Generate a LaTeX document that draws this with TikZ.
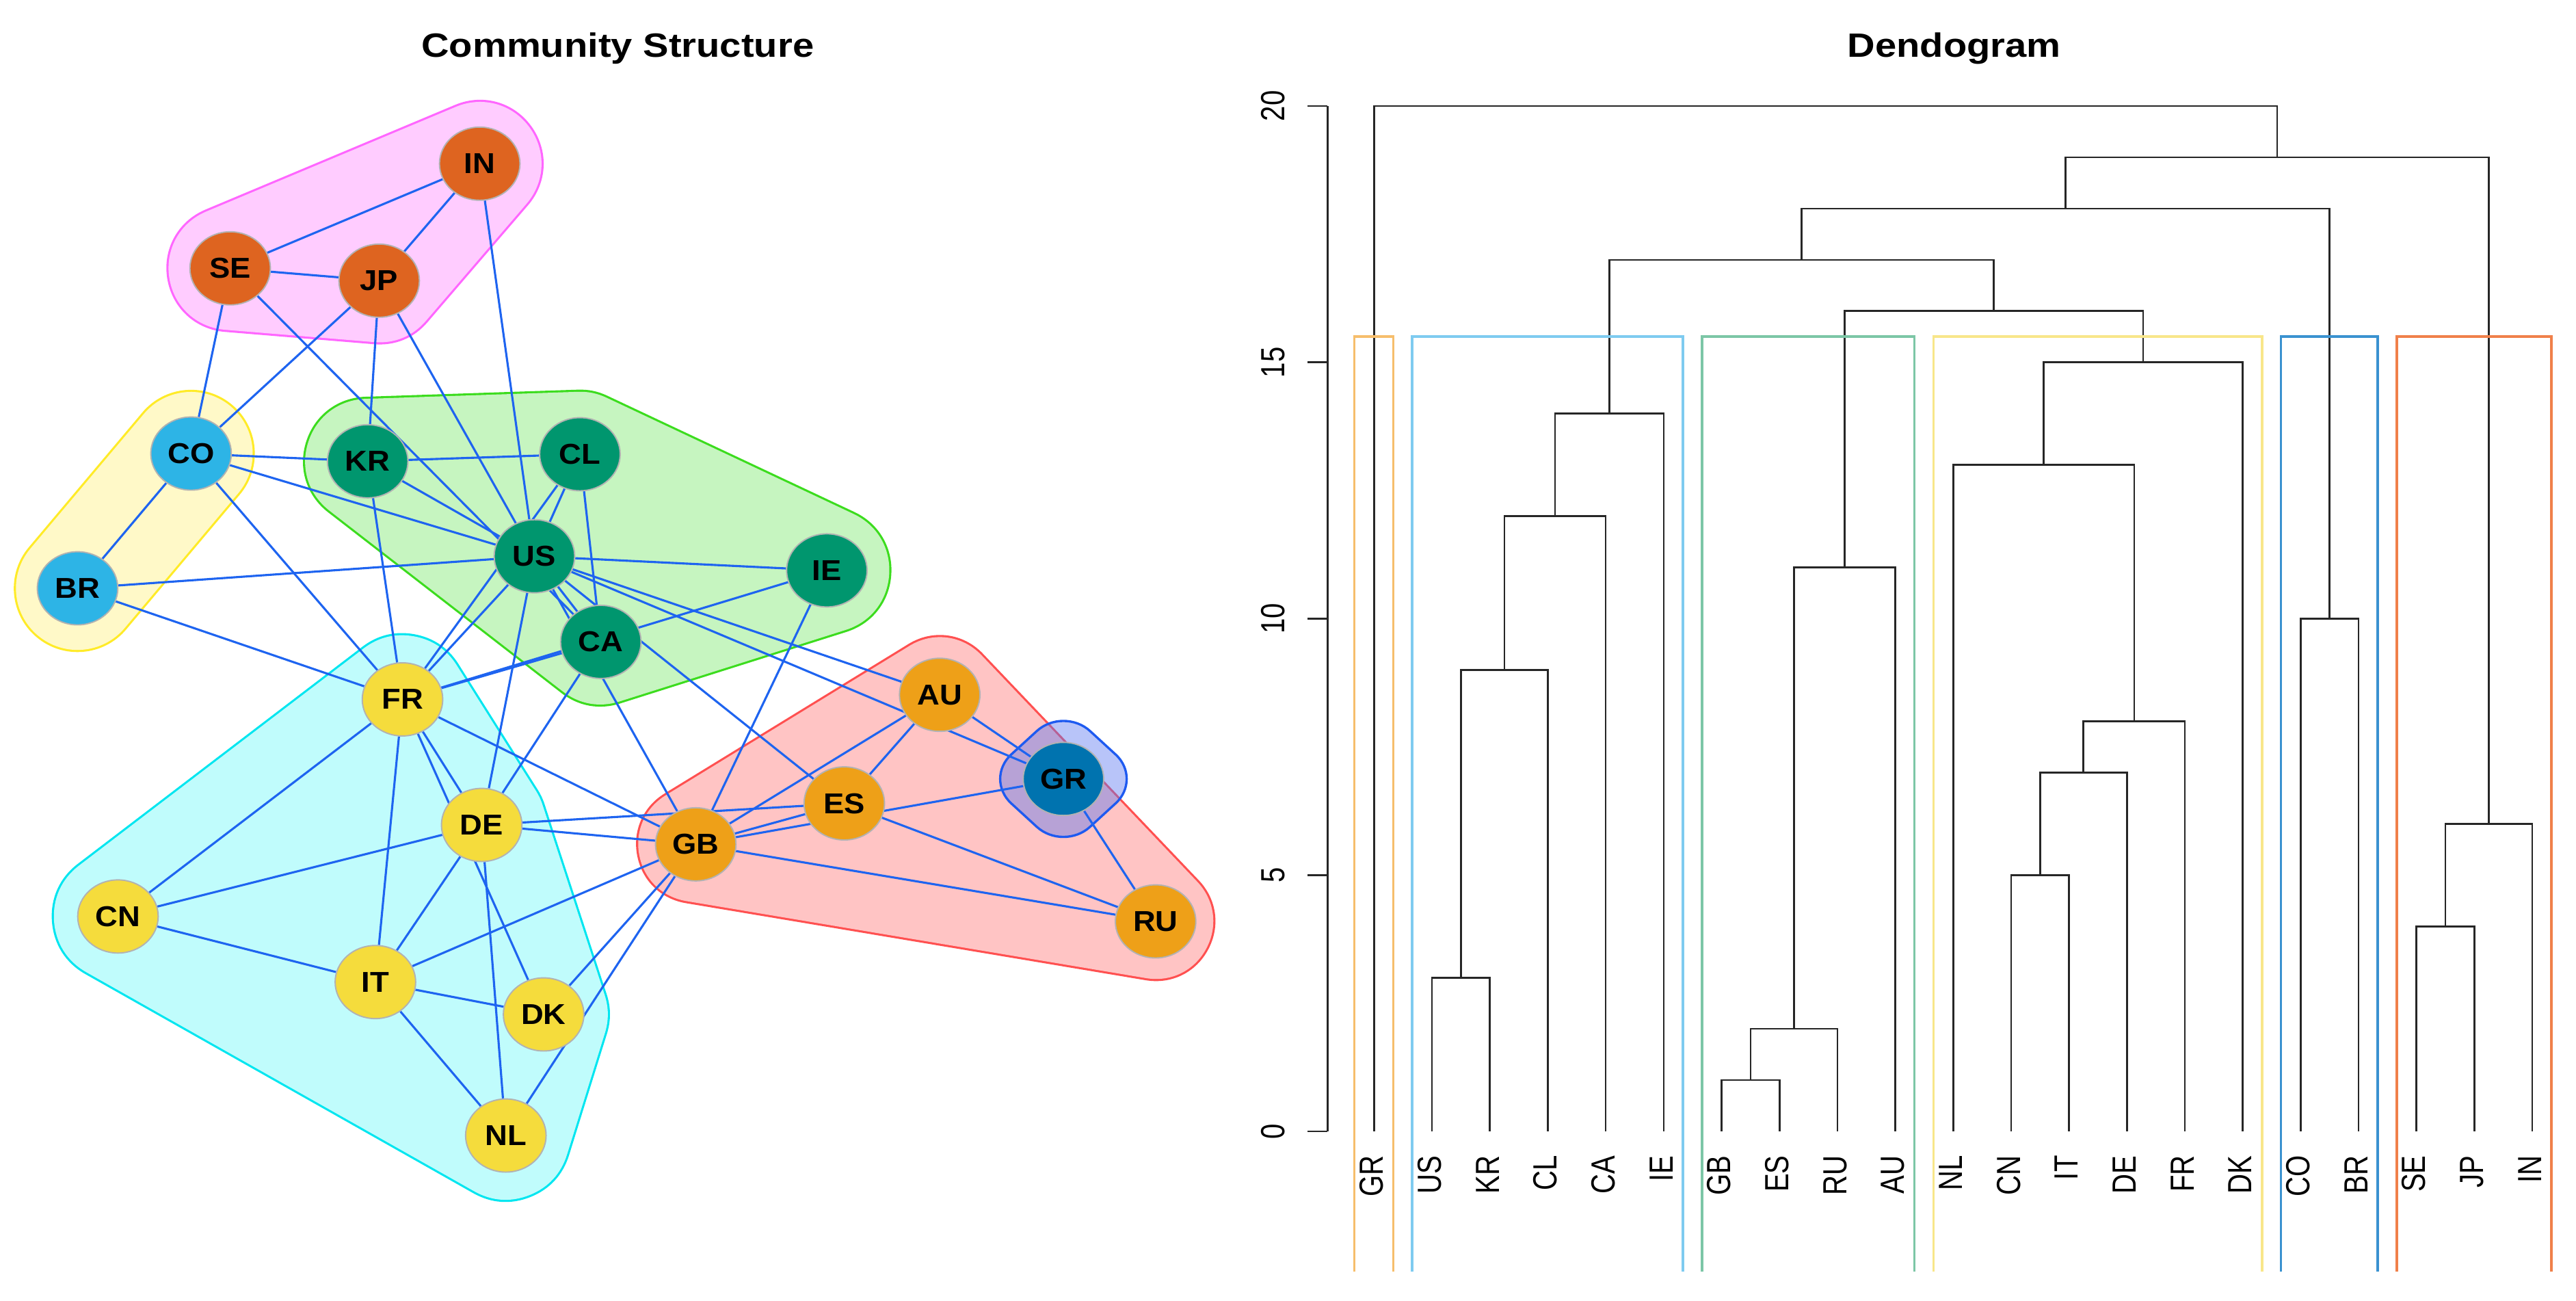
\documentclass[tikz,border=0pt]{standalone}
\usepackage{fontspec}
\setmainfont{Liberation Sans}
\usepackage{graphicx}
\usetikzlibrary{shapes.geometric}
\pgfdeclarelayer{hulls}
\pgfdeclarelayer{edges}
\pgfsetlayers{hulls,edges,main}
\definecolor{cVer}{HTML}{DE6420}
\definecolor{cOra}{HTML}{EEA018}
\definecolor{cGrn}{HTML}{00966E}
\definecolor{cSky}{HTML}{2DB4E6}
\definecolor{cBlu}{HTML}{0073AF}
\definecolor{cYel}{HTML}{F5DC3C}
\definecolor{edgeblue}{HTML}{1E64F0}
\definecolor{hPinkF}{HTML}{FFCCFF}
\definecolor{hPinkB}{HTML}{FF66FF}
\definecolor{hGrnF}{HTML}{C6F5C0}
\definecolor{hGrnB}{HTML}{3CDC1E}
\definecolor{hYelF}{HTML}{FFF9C8}
\definecolor{hYelB}{HTML}{FFEB28}
\definecolor{hCyaF}{HTML}{C0FCFC}
\definecolor{hCyaB}{HTML}{00E6F0}
\definecolor{hRedF}{HTML}{FFC4C4}
\definecolor{hRedB}{HTML}{FF5050}
\definecolor{hBluF}{HTML}{5A76F0}
\definecolor{hBluB}{HTML}{1E5AF0}
\definecolor{rOra}{HTML}{F6BE6C}
\definecolor{rSky}{HTML}{7ECBF0}
\definecolor{rGrn}{HTML}{7CC6A6}
\definecolor{rYel}{HTML}{F8E68A}
\definecolor{rBlu}{HTML}{3A92D0}
\definecolor{rVer}{HTML}{F0804A}
\newcommand\dmerge[5]{\draw[dend] (#1,{688.5-31.2*(#2)}) |- (#3,{688.5-31.2*(#5)}) -- (#3,{688.5-31.2*(#4)});}
\newcommand\clusterbox[3]{\draw[#1, line width=1.5pt] (#2,774) -- (#2,204.9) -- (#3,204.9) -- (#3,774);}
\begin{document}
\begin{tikzpicture}[x=1pt,y=-1pt,
  country/.style={ellipse, draw=gray!60, line width=0.8pt, minimum width=49pt, minimum height=44.5pt, inner sep=0pt, font=\fontsize{17.5}{17.5}\selectfont\bfseries},
  link/.style={draw=edgeblue, line width=1.3pt},
  dend/.style={draw=black!85, line width=1.1pt},
  titletext/.style={font=\fontsize{20.5}{20.5}\selectfont\bfseries, anchor=base},
  axlabel/.style={font=\fontsize{16.7}{16.7}\selectfont, rotate=90},
  hullline/.style={line join=round, line cap=round}]
\useasboundingbox (0,0) rectangle (1568,791.7);

% titles
\node[titletext] (title1) at (376,34.6) {\scalebox{1.14}[1]{Community Structure}};
\node[titletext] (title2) at (1189.5,34.6) {\scalebox{1.14}[1]{Dendogram}};

% country nodes
\node[country, fill=cVer] (IN) at (292,99.6) {\scalebox{1.08}[1]{IN}};
\node[country, fill=cVer] (SE) at (140.1,163.3) {\scalebox{1.08}[1]{SE}};
\node[country, fill=cVer] (JP) at (230.8,170.8) {\scalebox{1.08}[1]{JP}};
\node[country, fill=cSky] (CO) at (116.3,276) {\scalebox{1.08}[1]{CO}};
\node[country, fill=cGrn] (KR) at (223.8,280.7) {\scalebox{1.08}[1]{KR}};
\node[country, fill=cGrn] (CL) at (353,276.4) {\scalebox{1.08}[1]{CL}};
\node[country, fill=cGrn] (US) at (325.3,338.5) {\scalebox{1.08}[1]{US}};
\node[country, fill=cGrn] (IE) at (503.3,347.1) {\scalebox{1.08}[1]{IE}};
\node[country, fill=cSky] (BR) at (47.2,358) {\scalebox{1.08}[1]{BR}};
\node[country, fill=cGrn] (CA) at (365.7,390.6) {\scalebox{1.08}[1]{CA}};
\node[country, fill=cYel] (FR) at (245,425.6) {\scalebox{1.08}[1]{FR}};
\node[country, fill=cOra] (AU) at (572,422.8) {\scalebox{1.08}[1]{AU}};
\node[country, fill=cBlu] (GR) at (647.3,474) {\scalebox{1.08}[1]{GR}};
\node[country, fill=cOra] (ES) at (513.9,488.9) {\scalebox{1.08}[1]{ES}};
\node[country, fill=cYel] (DE) at (293.2,502) {\scalebox{1.08}[1]{DE}};
\node[country, fill=cOra] (GB) at (423.5,513.8) {\scalebox{1.08}[1]{GB}};
\node[country, fill=cYel] (CN) at (71.8,557.7) {\scalebox{1.08}[1]{CN}};
\node[country, fill=cOra] (RU) at (703.4,560.7) {\scalebox{1.08}[1]{RU}};
\node[country, fill=cYel] (IT) at (228.5,597.6) {\scalebox{1.08}[1]{IT}};
\node[country, fill=cYel] (DK) at (330.9,617.3) {\scalebox{1.08}[1]{DK}};
\node[country, fill=cYel] (NL) at (307.9,691) {\scalebox{1.08}[1]{NL}};

% edges
\begin{pgfonlayer}{edges}
\foreach \a/\b in {IN/SE, IN/JP, IN/US, SE/JP, SE/CO, SE/CA, JP/CO, JP/KR, JP/US,
  CO/KR, CO/US, CO/BR, CO/FR, KR/CL, KR/US, KR/FR, CL/US, CL/FR, CL/CA,
  US/IE, US/BR, US/CA, US/AU, US/GR, US/ES, US/GB, US/FR, US/DE,
  IE/GB, FR/IE, FR/CA, BR/FR, CA/DE, FR/DE, FR/DK, FR/IT, FR/CN, FR/GB,
  DE/CN, DE/IT, DE/NL, DE/GB, DE/ES, CN/IT, IT/DK, IT/NL, IT/GB,
  GB/DK, GB/NL, GB/ES, GB/GR, GB/AU, GB/RU, ES/AU, ES/RU, AU/GR, GR/RU}
  \draw[link] (\a) -- (\b);
\end{pgfonlayer}

% community hulls
\begin{pgfonlayer}{hulls}
% pink
\draw[hullline, hPinkB, line width=77.6pt] (SE.center) -- (IN.center) -- (JP.center) -- cycle;
\draw[hullline, hPinkF, line width=75pt] (SE.center) -- (IN.center) -- (JP.center) -- cycle;
\fill[hPinkF] (SE.center) -- (IN.center) -- (JP.center) -- cycle;
% yellow
\draw[hullline, hYelB, line width=77.6pt] (CO.center) -- (BR.center);
\draw[hullline, hYelF, line width=75pt] (CO.center) -- (BR.center);
% green
\draw[hullline, hGrnB, line width=78.6pt] (KR.center) -- (CL.center) -- (IE.center) -- (CA.center) -- cycle;
\draw[hullline, hGrnF, line width=76pt] (KR.center) -- (CL.center) -- (IE.center) -- (CA.center) -- cycle;
\fill[hGrnF] (KR.center) -- (CL.center) -- (IE.center) -- (CA.center) -- cycle;
% cyan
\draw[hullline, hCyaB, line width=80.6pt] (FR.center) -- (DE.center) -- (DK.center) -- (NL.center) -- (CN.center) -- cycle;
\draw[hullline, hCyaF, line width=78pt] (FR.center) -- (DE.center) -- (DK.center) -- (NL.center) -- (CN.center) -- cycle;
\fill[hCyaF] (FR.center) -- (DE.center) -- (DK.center) -- (NL.center) -- (CN.center) -- cycle;
% red
\draw[hullline, hRedB, line width=72.6pt] (GB.center) -- (AU.center) -- (RU.center) -- cycle;
\draw[hullline, hRedF, line width=70pt] (GB.center) -- (AU.center) -- (RU.center) -- cycle;
\fill[hRedF] (GB.center) -- (AU.center) -- (RU.center) -- cycle;
% blue (GR)
\filldraw[fill=hBluF, fill opacity=0.43, draw=hBluB, line width=1.4pt, rounded corners=22pt]
  ([shift={(48,0)}]GR.center) -- ([shift={(0,44)}]GR.center) -- ([shift={(-48,0)}]GR.center) -- ([shift={(0,-44)}]GR.center) -- cycle;
\end{pgfonlayer}

% dendrogram axis
\draw[dend] (808,688.5) -- (808,64.5);
\foreach \v in {0,5,10,15,20}{
  \draw[dend] (808,{688.5-31.2*\v}) -- (796,{688.5-31.2*\v});
  \node[axlabel, anchor=base] (tick\v) at (782,{688.5-31.2*\v}) {\scalebox{1}[1.22]{\v}};
}

% dendrogram merges
\dmerge{871.65}{0}{906.9}{0}{3}
\dmerge{889.275}{3}{942.15}{0}{9}
\dmerge{915.71}{9}{977.4}{0}{12}
\dmerge{946.56}{12}{1012.65}{0}{14}
\dmerge{1047.9}{0}{1083.15}{0}{1}
\dmerge{1065.525}{1}{1118.4}{0}{2}
\dmerge{1091.96}{2}{1153.65}{0}{11}
\dmerge{1224.15}{0}{1259.4}{0}{5}
\dmerge{1241.775}{5}{1294.65}{0}{7}
\dmerge{1268.21}{7}{1329.9}{0}{8}
\dmerge{1188.9}{0}{1299.06}{8}{13}
\dmerge{1243.98}{13}{1365.15}{0}{15}
\dmerge{1122.8}{11}{1304.57}{15}{16}
\dmerge{979.6}{14}{1213.68}{16}{17}
\dmerge{1400.4}{0}{1435.65}{0}{10}
\dmerge{1096.64}{17}{1418.03}{10}{18}
\dmerge{1470.9}{0}{1506.15}{0}{4}
\dmerge{1488.53}{4}{1541.4}{0}{6}
\dmerge{1257.33}{18}{1514.96}{6}{19}
\dmerge{836.4}{0}{1386.15}{19}{20}

% leaf labels
\foreach \n [count=\i from 0] in {GR,US,KR,CL,CA,IE,GB,ES,RU,AU,NL,CN,IT,DE,FR,DK,CO,BR,SE,JP,IN}
  \node[axlabel, anchor=base east, inner sep=0pt] (leaf\n) at ({836.4+35.25*\i+5.5},703) {\scalebox{1}[1.22]{\n}};

% cluster rectangles (open at the bottom)
\clusterbox{rOra}{824.4}{848.05}
\clusterbox{rSky}{859.65}{1024.3}
\clusterbox{rGrn}{1035.9}{1165.3}
\clusterbox{rYel}{1176.9}{1376.8}
\clusterbox{rBlu}{1388.4}{1447.3}
\clusterbox{rVer}{1458.9}{1553.05}
\end{tikzpicture}
\end{document}
